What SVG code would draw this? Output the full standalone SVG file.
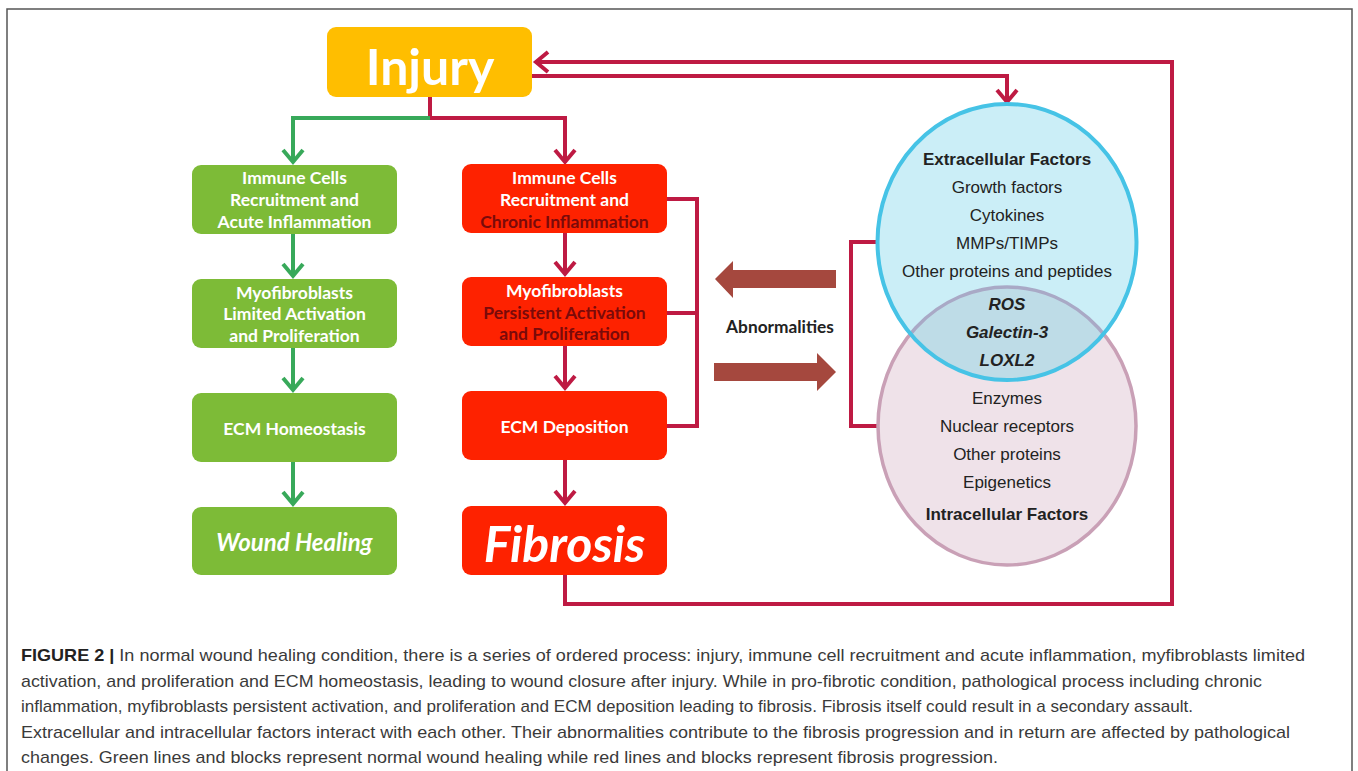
<svg xmlns="http://www.w3.org/2000/svg" width="1358" height="771" viewBox="0 0 1358 771">
<defs>
<style>
.box{stroke:none}
.g{fill:#7DBB37}
.r{fill:#FE2200}
.bt{font-family:Lato,"Open Sans",sans-serif;font-weight:bold;font-size:17.5px;text-anchor:middle;fill:#fff}
.dk{fill:#7A0A0A}
.ln{fill:none;stroke-width:4;stroke-linejoin:miter}
.lg{stroke:#38A95A}
.lr{stroke:#BE1A43}
.ct{font-family:"Liberation Sans",Arial,sans-serif;font-size:17px;text-anchor:middle;fill:#222}
.cap{font-family:"Liberation Sans",Arial,sans-serif;font-size:17px;fill:#3a3a3a}
</style>
<marker id="ag" markerUnits="userSpaceOnUse" orient="auto" refX="0" refY="0" overflow="visible">
<path d="M-12,-10 L0,0 L-12,10" fill="none" stroke="#38A95A" stroke-width="4"/>
</marker>
<marker id="ar" markerUnits="userSpaceOnUse" orient="auto" refX="0" refY="0" overflow="visible">
<path d="M-12,-10 L0,0 L-12,10" fill="none" stroke="#BE1A43" stroke-width="4"/>
</marker>
<clipPath id="blueClip"><ellipse cx="1007" cy="242" rx="129.5" ry="138"/></clipPath>
</defs>
<rect x="7" y="9" width="1345" height="800" fill="#fff" stroke="#555" stroke-width="1.5"/>

<g id="connectors">
<path class="ln lr" d="M430,97 V118 H565 V162" marker-end="url(#ar)"/>
<path class="ln lg" d="M430,118 H293 V162" marker-end="url(#ag)"/>
<path class="ln lg" d="M293,234 V276" marker-end="url(#ag)"/>
<path class="ln lg" d="M293,348 V390" marker-end="url(#ag)"/>
<path class="ln lg" d="M293,462 V504" marker-end="url(#ag)"/>
<path class="ln lr" d="M565,233 V274" marker-end="url(#ar)"/>
<path class="ln lr" d="M565,346 V388" marker-end="url(#ar)"/>
<path class="ln lr" d="M565,460 V503" marker-end="url(#ar)"/>
<path class="ln lr" d="M667,199 H697 V426 H667 M667,313 H697"/>
<path class="ln lr" d="M565,575 V604 H1172 V62 H536" marker-end="url(#ar)"/>
<path class="ln lr" d="M532,76 H1007 V102" marker-end="url(#ar)"/>
<path class="ln lr" d="M878,242 H851 V426 H879"/>
<polygon points="836,270 733,270 733,261 715,279 733,298 733,288 836,288" fill="#A5483E"/>
<polygon points="714,363 817,363 817,353 836,372 817,391 817,381 714,381" fill="#A5483E"/>
</g>

<g id="injury">
<rect class="box" x="327" y="27" width="205" height="70" rx="9" fill="#FFBE00"/>
<text x="430" y="85" class="bt" style="font-size:50px">Injury</text>
</g>

<g id="green1">
<rect class="box g" x="192" y="165" width="205" height="69" rx="9"/>
<text class="bt" x="294.5" y="184">Immune Cells</text>
<text class="bt" x="294.5" y="206">Recruitment and</text>
<text class="bt" x="294.5" y="228">Acute Inflammation</text>
</g>
<g id="green2">
<rect class="box g" x="192" y="279" width="205" height="69" rx="9"/>
<text class="bt" x="294.5" y="298.5">Myofibroblasts</text>
<text class="bt" x="294.5" y="320">Limited Activation</text>
<text class="bt" x="294.5" y="341.5">and Proliferation</text>
</g>
<g id="green3">
<rect class="box g" x="192" y="393" width="205" height="69" rx="9"/>
<text class="bt" x="294.5" y="434.5">ECM Homeostasis</text>
</g>
<g id="green4">
<rect class="box g" x="192" y="507" width="205" height="68" rx="9"/>
<text class="bt" x="294.5" y="551" style="font-size:24px;font-style:italic">Wound Healing</text>
</g>

<g id="red1">
<rect class="box r" x="462" y="164" width="205" height="69" rx="9"/>
<text class="bt" x="564.5" y="184">Immune Cells</text>
<text class="bt" x="564.5" y="206">Recruitment and</text>
<text class="bt dk" x="564.5" y="228">Chronic Inflammation</text>
</g>
<g id="red2">
<rect class="box r" x="462" y="277" width="205" height="69" rx="9"/>
<text class="bt" x="564.5" y="297">Myofibroblasts</text>
<text class="bt dk" x="564.5" y="318.5">Persistent Activation</text>
<text class="bt dk" x="564.5" y="340">and Proliferation</text>
</g>
<g id="red3">
<rect class="box r" x="462" y="391" width="205" height="69" rx="9"/>
<text class="bt" x="564.5" y="433">ECM Deposition</text>
</g>
<g id="fibrosis">
<rect class="box r" x="462" y="506" width="205" height="69" rx="9"/>
<text class="bt" x="564.5" y="562" style="font-size:50px;font-style:italic">Fibrosis</text>
</g>

<g id="abnormalities">
<text class="bt" x="780" y="333" style="fill:#222;font-size:17.3px">Abnormalities</text>
</g>

<g id="circles">
<ellipse cx="1007" cy="426" rx="129" ry="139" fill="#EFE2E9" stroke="#C9A0B6" stroke-width="3.5"/>
<ellipse cx="1007" cy="242" rx="129.5" ry="138" fill="#CBEEF7"/>
<g clip-path="url(#blueClip)">
<ellipse cx="1007" cy="426" rx="129" ry="139" fill="#BEDCE7" stroke="#A9A9C6" stroke-width="3.5"/>
</g>
<ellipse cx="1007" cy="242" rx="129.5" ry="138" fill="none" stroke="#46C3E6" stroke-width="4"/>
</g>

<g id="extracellular">
<text class="ct" x="1007" y="165" style="font-weight:bold">Extracellular Factors</text>
<text class="ct" x="1007" y="193">Growth factors</text>
<text class="ct" x="1007" y="221">Cytokines</text>
<text class="ct" x="1007" y="249">MMPs/TIMPs</text>
<text class="ct" x="1007" y="277">Other proteins and peptides</text>
</g>
<g id="shared">
<text class="ct" x="1007" y="310" style="font-weight:bold;font-style:italic">ROS</text>
<text class="ct" x="1007" y="338" style="font-weight:bold;font-style:italic">Galectin-3</text>
<text class="ct" x="1007" y="366" style="font-weight:bold;font-style:italic">LOXL2</text>
</g>
<g id="intracellular">
<text class="ct" x="1007" y="404">Enzymes</text>
<text class="ct" x="1007" y="432">Nuclear receptors</text>
<text class="ct" x="1007" y="460">Other proteins</text>
<text class="ct" x="1007" y="488">Epigenetics</text>
<text class="ct" x="1007" y="520" style="font-weight:bold">Intracellular Factors</text>
</g>

<g id="caption">
<text class="cap" x="21" y="661" textLength="1284" lengthAdjust="spacingAndGlyphs"><tspan font-weight="bold" fill="#222">FIGURE 2 |</tspan> In normal wound healing condition, there is a series of ordered process: injury, immune cell recruitment and acute inflammation, myfibroblasts limited</text>
<text class="cap" x="21" y="687" textLength="1241" lengthAdjust="spacingAndGlyphs">activation, and proliferation and ECM homeostasis, leading to wound closure after injury. While in pro-fibrotic condition, pathological process including chronic</text>
<text class="cap" x="21" y="712" textLength="1172" lengthAdjust="spacingAndGlyphs">inflammation, myfibroblasts persistent activation, and proliferation and ECM deposition leading to fibrosis. Fibrosis itself could result in a secondary assault.</text>
<text class="cap" x="21" y="738" textLength="1269" lengthAdjust="spacingAndGlyphs">Extracellular and intracellular factors interact with each other. Their abnormalities contribute to the fibrosis progression and in return are affected by pathological</text>
<text class="cap" x="21" y="763" textLength="977" lengthAdjust="spacingAndGlyphs">changes. Green lines and blocks represent normal wound healing while red lines and blocks represent fibrosis progression.</text>
</g>
</svg>
